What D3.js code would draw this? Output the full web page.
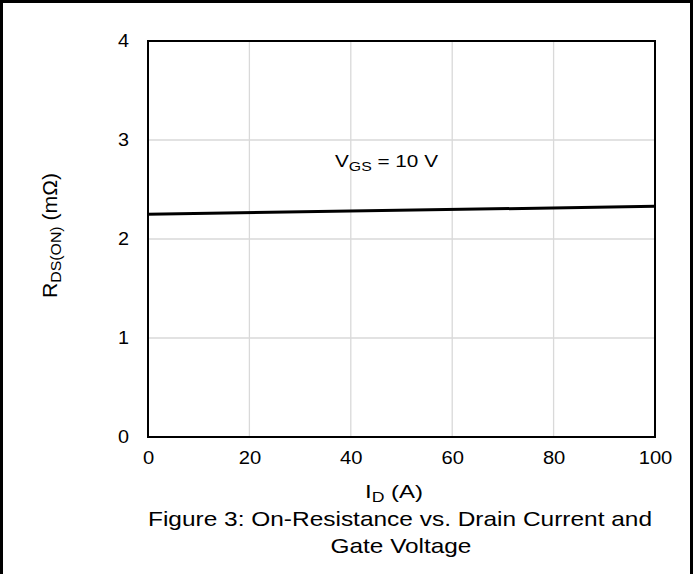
<!DOCTYPE html>
<html><head><meta charset="utf-8">
<script src="https://cdn.jsdelivr.net/npm/d3@7"></script>
<style>
html,body{margin:0;padding:0;background:#fff;}
svg text{font-family:"Liberation Sans",Arial,sans-serif;fill:#000;}
</style></head>
<body>
<svg id="c" width="693" height="574"></svg>
<script>
const currentA = [0, 100];
const rdsOn = [2.25, 2.33];
const xTicks = [0, 20, 40, 60, 80, 100];
const yTicks = [0, 1, 2, 3, 4];
const seriesLabel = "10 V";

const svg = d3.select("#c");
const W = 693, H = 574;
const m = {l:148, t:41, r:655, b:437};

function stretch(sel, f){
  sel.each(function(){
    const w = this.getComputedTextLength();
    d3.select(this).attr("textLength", w*f).attr("lengthAdjust","spacingAndGlyphs");
  });
}

// outer frame
svg.append("path").attr("d", `M1.5,${H} V1.5 H${W-1.5} V${H}`).attr("fill","none").attr("stroke","#000").attr("stroke-width",3);

const x = d3.scaleLinear().domain([0,100]).range([m.l, m.r]);
const y = d3.scaleLinear().domain([0,4]).range([m.b, m.t]);

// grid
svg.append("g").selectAll("line").data(xTicks.slice(1,-1)).join("line")
  .attr("x1",d=>x(d)).attr("x2",d=>x(d)).attr("y1",m.t).attr("y2",m.b)
  .attr("stroke","#d9d9d9").attr("stroke-width",1.3);
svg.append("g").selectAll("line").data(yTicks.slice(1,-1)).join("line")
  .attr("y1",d=>y(d)).attr("y2",d=>y(d)).attr("x1",m.l).attr("x2",m.r)
  .attr("stroke","#d9d9d9").attr("stroke-width",1.3);

// axes via d3
const xAxis = svg.append("g").attr("transform",`translate(0,${m.b})`)
  .call(d3.axisBottom(x).tickValues(xTicks).tickFormat(d3.format("d")).tickSize(0).tickPadding(14));
xAxis.attr("font-size",18).attr("font-family",null);
xAxis.select(".domain").remove();
xAxis.selectAll("text").attr("font-size",18);
stretch(xAxis.selectAll("text"), 1.12);

const yAxis = svg.append("g").attr("transform",`translate(${m.l},0)`)
  .call(d3.axisLeft(y).tickValues(yTicks).tickFormat(d3.format("d")).tickSize(0).tickPadding(19));
yAxis.attr("font-size",18).attr("font-family",null);
yAxis.select(".domain").remove();
yAxis.selectAll("text").attr("font-size",18);
stretch(yAxis.selectAll("text"), 1.1);

// plot border
svg.append("rect").attr("x",m.l).attr("y",m.t).attr("width",m.r-m.l).attr("height",m.b-m.t)
  .attr("fill","none").attr("stroke","#000").attr("stroke-width",2);

// data line
const line = d3.line().x((d,i)=>x(currentA[i])).y(d=>y(d));
svg.append("path").datum(rdsOn).attr("d",line).attr("fill","none").attr("stroke","#000").attr("stroke-width",3);

// annotation
const ann = svg.append("text").attr("x",335).attr("y",167).attr("font-size",17);
ann.append("tspan").text("V");
ann.append("tspan").attr("font-size",13).attr("dy",4).text("GS");
ann.append("tspan").attr("dy",-4).text(" = " + seriesLabel);
ann.attr("textLength",103).attr("lengthAdjust","spacingAndGlyphs");

// x label
const xl = svg.append("text").attr("x",365).attr("y",498).attr("font-size",19);
xl.append("tspan").text("I");
xl.append("tspan").attr("font-size",14).attr("dy",4).text("D");
xl.append("tspan").attr("dy",-4).text(" (A)");
xl.attr("textLength",58).attr("lengthAdjust","spacingAndGlyphs");

// y label
const yl = svg.append("text").attr("transform","translate(57,298) rotate(-90)").attr("font-size",20);
yl.append("tspan").text("R");
yl.append("tspan").attr("font-size",15).attr("dy",4).text("DS(ON)");
yl.append("tspan").attr("dy",-4).text(" (mΩ)");
yl.attr("textLength",125).attr("lengthAdjust","spacingAndGlyphs");

// caption
const c1 = svg.append("text").attr("x",148).attr("y",526).attr("font-size",21)
  .text("Figure 3: On-Resistance vs. Drain Current and");
c1.attr("textLength",504).attr("lengthAdjust","spacingAndGlyphs");
const c2 = svg.append("text").attr("x",401).attr("y",553).attr("text-anchor","middle").attr("font-size",21)
  .text("Gate Voltage");
stretch(c2, 1.16);
</script>
</body></html>
